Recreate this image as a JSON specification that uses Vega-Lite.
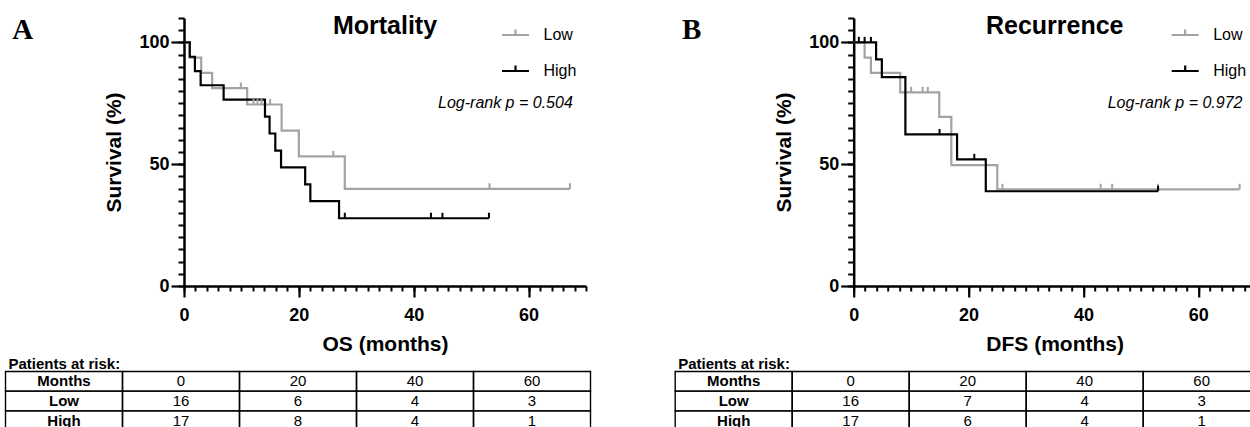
{
  "$schema": "https://vega.github.io/schema/vega-lite/v6.json",
  "background": "white",
  "padding": {"left": 4, "top": 13, "right": 0, "bottom": 0},
  "config": {
    "view": {"stroke": null},
    "font": "Liberation Sans",
    "text": {"font": "Liberation Sans", "color": "black"},
    "axis": {"grid": false, "labelFlush": false, "labelOverlap": false, "domainColor": "black", "tickColor": "black", "labelColor": "black", "titleColor": "black", "labelFont": "Liberation Sans", "titleFont": "Liberation Sans"}
  },
  "datasets": {
    "osKM": [
      {"group": "Low", "t": 0, "s": 100}, {"group": "Low", "t": 1.0, "s": 93.75}, {"group": "Low", "t": 3.0, "s": 87.5},
      {"group": "Low", "t": 4.9, "s": 81.25}, {"group": "Low", "t": 11.0, "s": 74.5}, {"group": "Low", "t": 17.0, "s": 63.8},
      {"group": "Low", "t": 20.0, "s": 53.2}, {"group": "Low", "t": 28.0, "s": 39.9}, {"group": "Low", "t": 67.2, "s": 39.9},
      {"group": "High", "t": 0, "s": 100}, {"group": "High", "t": 1.0, "s": 94.1}, {"group": "High", "t": 1.9, "s": 88.2},
      {"group": "High", "t": 2.9, "s": 82.4}, {"group": "High", "t": 6.9, "s": 76.5}, {"group": "High", "t": 14.1, "s": 69.5},
      {"group": "High", "t": 14.9, "s": 62.6}, {"group": "High", "t": 15.9, "s": 55.6}, {"group": "High", "t": 16.9, "s": 48.7},
      {"group": "High", "t": 21.1, "s": 41.7}, {"group": "High", "t": 22.0, "s": 34.8}, {"group": "High", "t": 27.0, "s": 27.8},
      {"group": "High", "t": 53.1, "s": 27.8}
    ],
    "osCensor": [
      {"group": "Low", "t": 9.9, "s": 81.25}, {"group": "Low", "t": 12.1, "s": 74.5}, {"group": "Low", "t": 12.8, "s": 74.5},
      {"group": "Low", "t": 13.5, "s": 74.5}, {"group": "Low", "t": 15.0, "s": 74.5}, {"group": "Low", "t": 26.0, "s": 53.2},
      {"group": "Low", "t": 53.2, "s": 39.9}, {"group": "Low", "t": 67.2, "s": 39.9},
      {"group": "High", "t": 28.0, "s": 27.8}, {"group": "High", "t": 43.0, "s": 27.8}, {"group": "High", "t": 45.0, "s": 27.8},
      {"group": "High", "t": 53.1, "s": 27.8}
    ],
    "dfsKM": [
      {"group": "Low", "t": 0, "s": 100}, {"group": "Low", "t": 1.9, "s": 93.75}, {"group": "Low", "t": 3.0, "s": 87.5},
      {"group": "Low", "t": 8.1, "s": 79.5}, {"group": "Low", "t": 14.9, "s": 69.4}, {"group": "Low", "t": 17.0, "s": 49.6},
      {"group": "Low", "t": 25.0, "s": 39.7}, {"group": "Low", "t": 67.2, "s": 39.7},
      {"group": "High", "t": 0, "s": 100}, {"group": "High", "t": 3.9, "s": 93.0}, {"group": "High", "t": 4.9, "s": 85.7},
      {"group": "High", "t": 9.0, "s": 62.2}, {"group": "High", "t": 18.0, "s": 52.0}, {"group": "High", "t": 23.0, "s": 38.9},
      {"group": "High", "t": 53.0, "s": 38.9}
    ],
    "dfsCensor": [
      {"group": "Low", "t": 10.0, "s": 79.5}, {"group": "Low", "t": 12.0, "s": 79.5}, {"group": "Low", "t": 12.9, "s": 79.5},
      {"group": "Low", "t": 25.9, "s": 39.7}, {"group": "Low", "t": 43.0, "s": 39.7}, {"group": "Low", "t": 45.0, "s": 39.7},
      {"group": "Low", "t": 53.0, "s": 39.7}, {"group": "Low", "t": 67.2, "s": 39.7},
      {"group": "High", "t": 0.9, "s": 100}, {"group": "High", "t": 1.9, "s": 100}, {"group": "High", "t": 3.0, "s": 100},
      {"group": "High", "t": 14.95, "s": 62.2}, {"group": "High", "t": 21.0, "s": 52.0}, {"group": "High", "t": 53.0, "s": 38.9}
    ],
    "osTable": [
      {"row": "Months", "col": "Months", "label": "Months"}, {"row": "Months", "col": "0", "label": "0"}, {"row": "Months", "col": "20", "label": "20"}, {"row": "Months", "col": "40", "label": "40"}, {"row": "Months", "col": "60", "label": "60"},
      {"row": "Low", "col": "Months", "label": "Low"}, {"row": "Low", "col": "0", "label": "16"}, {"row": "Low", "col": "20", "label": "6"}, {"row": "Low", "col": "40", "label": "4"}, {"row": "Low", "col": "60", "label": "3"},
      {"row": "High", "col": "Months", "label": "High"}, {"row": "High", "col": "0", "label": "17"}, {"row": "High", "col": "20", "label": "8"}, {"row": "High", "col": "40", "label": "4"}, {"row": "High", "col": "60", "label": "1"}
    ],
    "dfsTable": [
      {"row": "Months", "col": "Months", "label": "Months"}, {"row": "Months", "col": "0", "label": "0"}, {"row": "Months", "col": "20", "label": "20"}, {"row": "Months", "col": "40", "label": "40"}, {"row": "Months", "col": "60", "label": "60"},
      {"row": "Low", "col": "Months", "label": "Low"}, {"row": "Low", "col": "0", "label": "16"}, {"row": "Low", "col": "20", "label": "7"}, {"row": "Low", "col": "40", "label": "4"}, {"row": "Low", "col": "60", "label": "3"},
      {"row": "High", "col": "Months", "label": "High"}, {"row": "High", "col": "0", "label": "17"}, {"row": "High", "col": "20", "label": "6"}, {"row": "High", "col": "40", "label": "4"}, {"row": "High", "col": "60", "label": "1"}
    ]
  },
  "spacing": 81.7,
  "resolve": {"scale": {"color": "independent"}, "legend": {"color": "independent"}},
  "hconcat": [
    {
      "width": 402, "height": 268,
      "resolve": {"scale": {"x": "independent", "y": "independent"}},
      "layer": [
        {
          "layer": [
            {
              "data": {"name": "osKM"},
              "mark": {"type": "line", "interpolate": "step-after", "strokeWidth": 2.2},
              "encoding": {
                "x": {"field": "t", "type": "quantitative", "scale": {"domain": [0, 70], "nice": false, "zero": false},
                  "axis": {"orient": "bottom", "values": [0, 20, 40, 60], "tickSize": 11, "tickWidth": 2.2, "domainWidth": 2.5, "labelFontSize": 18, "labelFontWeight": "bold", "labelPadding": 9, "title": "OS (months)", "titleFontSize": 21, "titleFontWeight": "bold", "titlePadding": 9}},
                "y": {"field": "s", "type": "quantitative", "scale": {"domain": [0, 110], "nice": false},
                  "axis": {"orient": "left", "values": [0, 50, 100], "tickSize": 13, "tickWidth": 2.2, "domainWidth": 2.5, "labelFontSize": 18, "labelFontWeight": "bold", "labelPadding": 2, "title": "Survival (%)", "titleFontSize": 21, "titleFontWeight": "bold", "titlePadding": 14}},
                "color": {"field": "group", "type": "nominal", "scale": {"domain": ["Low", "High"], "range": ["#a3a3a3", "#000000"]},
                  "legend": {"orient": "none", "legendX": 316.5, "legendY": 2, "title": null, "symbolType": "M-1,0H1M0,0V-0.4", "symbolSize": 729, "symbolStrokeWidth": 2.2, "labelFont": "Liberation Sans", "labelFontSize": 16, "labelColor": "black", "labelOffset": 13, "rowPadding": 13, "padding": 0}}
              }
            },
            {
              "data": {"name": "osCensor"},
              "mark": {"type": "point", "shape": "M0,0V-1", "size": 121, "filled": false, "strokeWidth": 2, "opacity": 1},
              "encoding": {
                "x": {"field": "t", "type": "quantitative"},
                "y": {"field": "s", "type": "quantitative"},
                "color": {"field": "group", "type": "nominal"}
              }
            },
            {
              "data": {"values": [{}]},
              "mark": {"type": "text", "fontSize": 25, "fontWeight": "bold", "align": "center", "baseline": "alphabetic"},
              "encoding": {"x": {"datum": 35}, "y": {"datum": 103.6}, "text": {"value": "Mortality"}}
            },
            {
              "data": {"values": [{}]},
              "mark": {"type": "text", "fontSize": 16, "fontStyle": "italic", "align": "right", "baseline": "alphabetic"},
              "encoding": {"x": {"datum": 67.7}, "y": {"datum": 73.2}, "text": {"value": "Log-rank p = 0.504"}}
            },
            {
              "data": {"values": [{}]},
              "mark": {"type": "text", "font": "Liberation Serif", "fontSize": 29, "fontWeight": "bold", "align": "left", "baseline": "alphabetic"},
              "encoding": {"x": {"datum": -29.9}, "y": {"datum": 101.5}, "text": {"value": "A"}}
            }
          ]
        },
        {
          "data": {"values": [{}]},
          "mark": {"type": "point", "opacity": 0},
          "encoding": {
            "x": {"datum": 0, "type": "quantitative", "scale": {"domain": [0, 70], "nice": false, "zero": false},
              "axis": {"orient": "bottom", "values": [0, 2, 4, 6, 8, 10, 12, 14, 16, 18, 20, 22, 24, 26, 28, 30, 32, 34, 36, 38, 40, 42, 44, 46, 48, 50, 52, 54, 56, 58, 60, 62, 64, 66, 68, 70], "tickSize": 5, "tickWidth": 2, "labels": false, "domain": false, "title": null}},
            "y": {"datum": 0, "type": "quantitative", "scale": {"domain": [0, 110], "nice": false},
              "axis": {"orient": "left", "values": [0, 5, 10, 15, 20, 25, 30, 35, 40, 45, 50, 55, 60, 65, 70, 75, 80, 85, 90, 95, 100, 105, 110], "tickSize": 6, "tickWidth": 2, "labels": false, "domain": false, "title": null}}
          }
        },
        {
          "data": {"name": "osTable"},
          "layer": [
            {
              "mark": {"type": "rect", "fill": "transparent", "stroke": "black", "strokeWidth": 1.4},
              "encoding": {
                "x": {"field": "col", "type": "nominal", "scale": {"type": "band", "domain": ["Months", "0", "20", "40", "60"], "range": [-178.5, 406.5], "paddingInner": 0, "paddingOuter": 0}, "axis": null},
                "y": {"field": "row", "type": "nominal", "scale": {"type": "band", "domain": ["Months", "Low", "High"], "range": [353.5, 412.5], "paddingInner": 0, "paddingOuter": 0}, "axis": null}
              }
            },
            {
              "transform": [{"filter": "datum.col === 'Months'"}],
              "mark": {"type": "text", "fontSize": 15, "fontWeight": "bold", "baseline": "middle"},
              "encoding": {"x": {"field": "col", "type": "nominal"}, "y": {"field": "row", "type": "nominal"}, "text": {"field": "label"}}
            },
            {
              "transform": [{"filter": "datum.col !== 'Months'"}],
              "mark": {"type": "text", "fontSize": 15, "baseline": "middle"},
              "encoding": {"x": {"field": "col", "type": "nominal"}, "y": {"field": "row", "type": "nominal"}, "text": {"field": "label"}}
            },
            {
              "data": {"values": [{}]},
              "mark": {"type": "text", "fontSize": 15, "fontWeight": "bold", "align": "left", "baseline": "alphabetic", "dx": 3, "dy": -3},
              "encoding": {"x": {"datum": "Months", "type": "nominal", "bandPosition": 0}, "y": {"datum": "Months", "type": "nominal", "bandPosition": 0}, "text": {"value": "Patients at risk:"}}
            }
          ]
        }
      ]
    },
    {
      "width": 402, "height": 268,
      "resolve": {"scale": {"x": "independent", "y": "independent"}},
      "layer": [
        {
          "layer": [
            {
              "data": {"name": "dfsKM"},
              "mark": {"type": "line", "interpolate": "step-after", "strokeWidth": 2.2},
              "encoding": {
                "x": {"field": "t", "type": "quantitative", "scale": {"domain": [0, 70], "nice": false, "zero": false},
                  "axis": {"orient": "bottom", "values": [0, 20, 40, 60], "tickSize": 11, "tickWidth": 2.2, "domainWidth": 2.5, "labelFontSize": 18, "labelFontWeight": "bold", "labelPadding": 9, "title": "DFS (months)", "titleFontSize": 21, "titleFontWeight": "bold", "titlePadding": 9}},
                "y": {"field": "s", "type": "quantitative", "scale": {"domain": [0, 110], "nice": false},
                  "axis": {"orient": "left", "values": [0, 50, 100], "tickSize": 13, "tickWidth": 2.2, "domainWidth": 2.5, "labelFontSize": 18, "labelFontWeight": "bold", "labelPadding": 2, "title": "Survival (%)", "titleFontSize": 21, "titleFontWeight": "bold", "titlePadding": 14}},
                "color": {"field": "group", "type": "nominal", "scale": {"domain": ["Low", "High"], "range": ["#a3a3a3", "#000000"]},
                  "legend": {"orient": "none", "legendX": 316.5, "legendY": 2, "title": null, "symbolType": "M-1,0H1M0,0V-0.4", "symbolSize": 729, "symbolStrokeWidth": 2.2, "labelFont": "Liberation Sans", "labelFontSize": 16, "labelColor": "black", "labelOffset": 13, "rowPadding": 13, "padding": 0}}
              }
            },
            {
              "data": {"name": "dfsCensor"},
              "mark": {"type": "point", "shape": "M0,0V-1", "size": 121, "filled": false, "strokeWidth": 2, "opacity": 1},
              "encoding": {
                "x": {"field": "t", "type": "quantitative"},
                "y": {"field": "s", "type": "quantitative"},
                "color": {"field": "group", "type": "nominal"}
              }
            },
            {
              "data": {"values": [{}]},
              "mark": {"type": "text", "fontSize": 25, "fontWeight": "bold", "align": "center", "baseline": "alphabetic"},
              "encoding": {"x": {"datum": 35}, "y": {"datum": 103.6}, "text": {"value": "Recurrence"}}
            },
            {
              "data": {"values": [{}]},
              "mark": {"type": "text", "fontSize": 16, "fontStyle": "italic", "align": "right", "baseline": "alphabetic"},
              "encoding": {"x": {"datum": 67.7}, "y": {"datum": 73.2}, "text": {"value": "Log-rank p = 0.972"}}
            },
            {
              "data": {"values": [{}]},
              "mark": {"type": "text", "font": "Liberation Serif", "fontSize": 29, "fontWeight": "bold", "align": "left", "baseline": "alphabetic"},
              "encoding": {"x": {"datum": -29.9}, "y": {"datum": 101.5}, "text": {"value": "B"}}
            }
          ]
        },
        {
          "data": {"values": [{}]},
          "mark": {"type": "point", "opacity": 0},
          "encoding": {
            "x": {"datum": 0, "type": "quantitative", "scale": {"domain": [0, 70], "nice": false, "zero": false},
              "axis": {"orient": "bottom", "values": [0, 2, 4, 6, 8, 10, 12, 14, 16, 18, 20, 22, 24, 26, 28, 30, 32, 34, 36, 38, 40, 42, 44, 46, 48, 50, 52, 54, 56, 58, 60, 62, 64, 66, 68, 70], "tickSize": 5, "tickWidth": 2, "labels": false, "domain": false, "title": null}},
            "y": {"datum": 0, "type": "quantitative", "scale": {"domain": [0, 110], "nice": false},
              "axis": {"orient": "left", "values": [0, 5, 10, 15, 20, 25, 30, 35, 40, 45, 50, 55, 60, 65, 70, 75, 80, 85, 90, 95, 100, 105, 110], "tickSize": 6, "tickWidth": 2, "labels": false, "domain": false, "title": null}}
          }
        },
        {
          "data": {"name": "dfsTable"},
          "layer": [
            {
              "mark": {"type": "rect", "fill": "transparent", "stroke": "black", "strokeWidth": 1.4},
              "encoding": {
                "x": {"field": "col", "type": "nominal", "scale": {"type": "band", "domain": ["Months", "0", "20", "40", "60"], "range": [-178.5, 406.5], "paddingInner": 0, "paddingOuter": 0}, "axis": null},
                "y": {"field": "row", "type": "nominal", "scale": {"type": "band", "domain": ["Months", "Low", "High"], "range": [353.5, 412.5], "paddingInner": 0, "paddingOuter": 0}, "axis": null}
              }
            },
            {
              "transform": [{"filter": "datum.col === 'Months'"}],
              "mark": {"type": "text", "fontSize": 15, "fontWeight": "bold", "baseline": "middle"},
              "encoding": {"x": {"field": "col", "type": "nominal"}, "y": {"field": "row", "type": "nominal"}, "text": {"field": "label"}}
            },
            {
              "transform": [{"filter": "datum.col !== 'Months'"}],
              "mark": {"type": "text", "fontSize": 15, "baseline": "middle"},
              "encoding": {"x": {"field": "col", "type": "nominal"}, "y": {"field": "row", "type": "nominal"}, "text": {"field": "label"}}
            },
            {
              "data": {"values": [{}]},
              "mark": {"type": "text", "fontSize": 15, "fontWeight": "bold", "align": "left", "baseline": "alphabetic", "dx": 3, "dy": -3},
              "encoding": {"x": {"datum": "Months", "type": "nominal", "bandPosition": 0}, "y": {"datum": "Months", "type": "nominal", "bandPosition": 0}, "text": {"value": "Patients at risk:"}}
            }
          ]
        }
      ]
    }
  ]
}
